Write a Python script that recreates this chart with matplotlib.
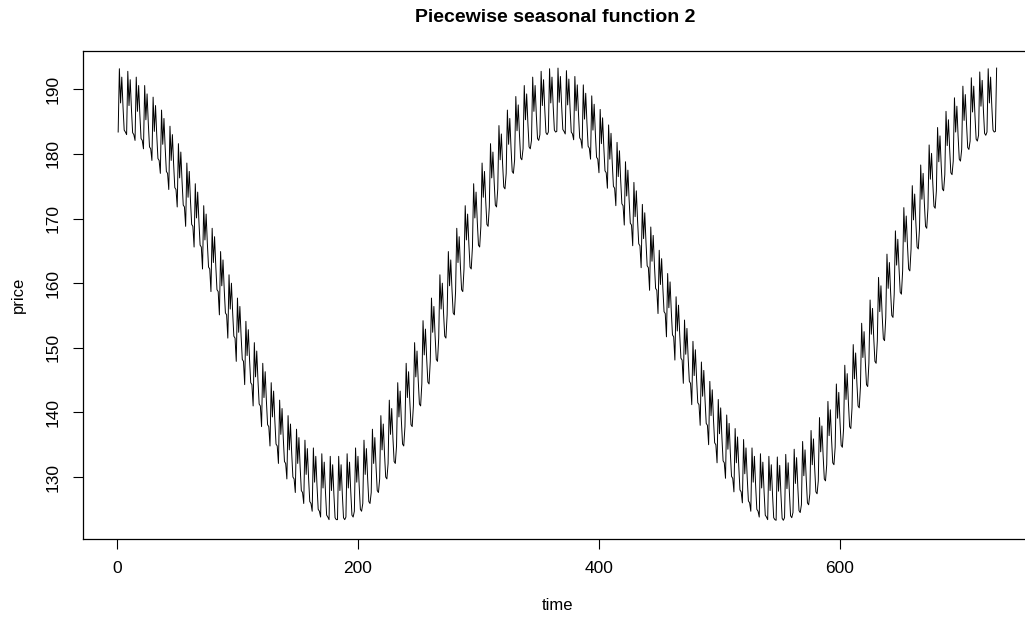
import numpy as np
import matplotlib.pyplot as plt

plt.rcParams['font.family'] = ['Liberation Sans', 'DejaVu Sans']

# lower-envelope level of each week (105 weeks, last one partial)
week_base = [
    183.4, 183.0, 182.1, 180.8, 179.0, 177.0, 174.5, 171.8, 168.8, 165.6,
    162.2, 158.7, 155.1, 151.5, 147.9, 144.3, 141.0, 137.8, 134.8, 132.1,
    129.7, 127.6, 125.9, 124.7, 123.8, 123.4, 123.4, 123.8, 124.7, 125.9,
    127.6, 129.7, 132.1, 134.8, 137.8, 141.0, 144.4, 147.9, 151.5, 155.1,
    158.7, 162.2, 165.6, 168.8, 171.8, 174.6, 177.0, 179.1, 180.8, 182.1,
    183.0, 183.4, 183.5, 183.1, 182.2, 180.9, 179.2, 177.1, 174.7, 172.0,
    169.0, 165.8, 162.4, 158.9, 155.3, 151.7, 148.1, 144.5, 141.2, 138.0,
    135.0, 132.2, 129.8, 127.7, 126.0, 124.7, 123.8, 123.4, 123.3, 123.7,
    124.5, 125.7, 127.4, 129.4, 131.9, 134.6, 137.5, 140.7, 144.0, 147.6,
    151.1, 154.7, 158.3, 161.9, 165.3, 168.5, 171.6, 174.3, 176.8, 178.9,
    180.7, 182.0, 182.9, 183.4, 183.5,
]
# day-of-week offset above the weekly level
day_offset = [0.0, 9.8, 4.5, 8.5, 4.0, 0.3, 0.0]

n_days = 730
time = np.arange(1, n_days + 1)
price = np.array([week_base[(t - 1) // 7] + day_offset[(t - 1) % 7] for t in time])

fig = plt.figure(figsize=(10.25, 6.19), dpi=100)
ax = fig.add_axes([0.081, 0.1292, 0.9256, 0.789])
ax.plot(time, price, color='black', linewidth=0.7)

ax.set_xlim(-28.16, 759.16)
ax.set_ylim(120.4, 196.0)
ax.set_xticks([0, 200, 400, 600])
ax.set_yticks([130, 140, 150, 160, 170, 180, 190])
ax.tick_params(axis='both', labelsize=12.5, length=7, width=0.8, pad=9)
for lab in ax.get_yticklabels():
    lab.set_rotation(90)
    lab.set_va('center')
for s in ax.spines.values():
    s.set_linewidth(0.9)

ax.set_xlabel('time', fontsize=12, labelpad=16)
ax.set_ylabel('price', fontsize=12, labelpad=14)
fig.suptitle('Piecewise seasonal function 2', fontsize=14, fontweight='bold', x=0.542, y=0.985)

fig.savefig('out.png', dpi=100)
